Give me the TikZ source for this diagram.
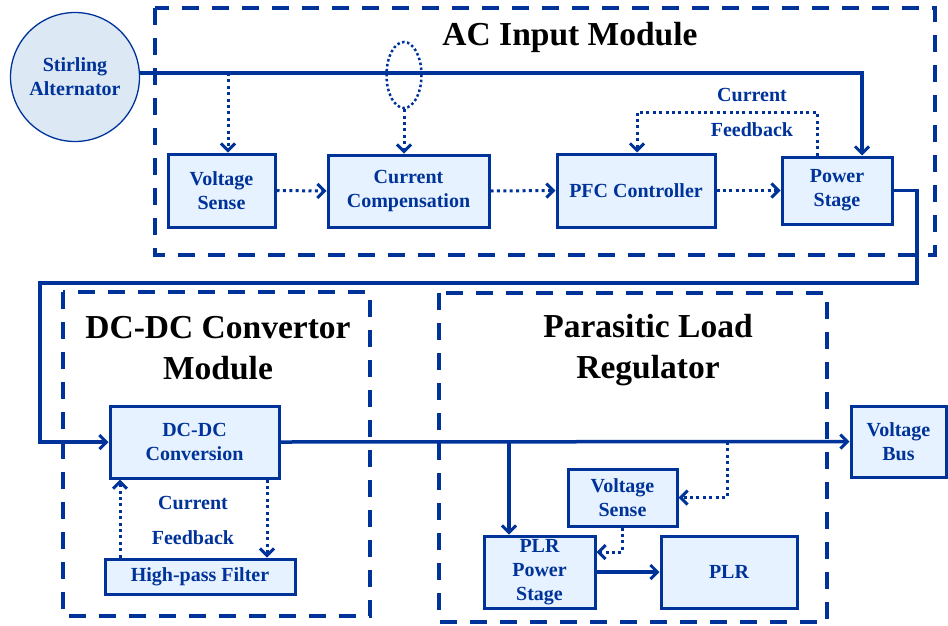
\documentclass[tikz,border=0pt]{standalone}
\usepackage{fontspec}
\setmainfont{Liberation Serif}
\usetikzlibrary{arrows.meta,shapes.geometric}
\definecolor{dblue}{HTML}{003399}
\definecolor{boxfill}{HTML}{E6F2FF}
\definecolor{circfill}{HTML}{DCE9F5}
\tikzset{
  blk/.style={draw=dblue, line width=3pt, fill=boxfill, text=dblue, inner sep=0pt, align=center,
    font=\bfseries\fontsize{20}{24}\selectfont},
  lbl/.style={text=dblue, inner sep=0pt, align=center, font=\bfseries\fontsize{20}{24}\selectfont},
  ttl/.style={text=black, inner sep=0pt, align=center, font=\bfseries\fontsize{33.5}{41}\selectfont},
  modbox/.style={draw=dblue, line width=4pt, dash pattern=on 17pt off 13pt},
  conn/.style={draw=dblue, line width=3.5pt, -{Straight Barb[length=7pt,width=14pt,line width=3pt]}},
  sig/.style={draw=dblue, line width=3pt, dash pattern=on 3pt off 3.4pt,
    -{Straight Barb[length=7pt,width=14pt,line width=3pt]}},
}
\begin{document}
\begin{tikzpicture}[x=1pt,y=-1pt]
\useasboundingbox (0,0) rectangle (948,625);
% module boxes
\draw[modbox] (155,8) rectangle (935,255);
\draw[modbox] (63,292) rectangle (370,616);
\draw[modbox] (439,293) rectangle (827,622);
% titles
\node[ttl] (t1) at (570,37) {AC Input Module};
\node[ttl] (t2) at (218,348) {DC-DC Convertor\\Module};
\node[ttl] (t3) at (648,350) {Parasitic Load\\Regulator};
% nodes
\node[circle, draw=dblue, line width=1.3pt, fill=circfill, minimum size=129pt, inner sep=0pt, text=dblue,
  align=center, font=\bfseries\fontsize{20}{24}\selectfont] (alt) at (75,77) {Stirling\\Alternator};
\node[ellipse, draw=dblue, line width=2.5pt, dash pattern=on 2.5pt off 2.5pt, minimum width=35pt, minimum height=66pt, inner sep=0pt] (ell) at (404,75) {};
\node[blk, minimum width=107pt, minimum height=73pt] (vs1) at (221.5,190.5) {Voltage\\Sense};
\node[blk, minimum width=161pt, minimum height=72pt] (cc) at (408.5,191) {Current\\Compensation};
\node[blk, minimum width=158pt, minimum height=73pt] (pfc) at (636,190.5) {PFC Controller};
\node[blk, minimum width=110pt, minimum height=67pt] (ps) at (837,190.5) {Power\\Stage};
\node[blk, minimum width=169pt, minimum height=72pt] (dcdc) at (194.5,442) {DC-DC\\Conversion};
\node[blk, minimum width=190pt, minimum height=35pt] (hpf) at (200,576.5) {High-pass Filter};
\node[blk, minimum width=95pt, minimum height=71pt] (vbus) at (898.5,441.5) {Voltage\\Bus};
\node[blk, minimum width=109pt, minimum height=57pt] (vs2) at (622.5,497.5) {Voltage\\Sense};
\node[blk, minimum width=111pt, minimum height=72pt] (plrps) at (539.5,572) {PLR\\Power\\Stage};
\node[blk, minimum width=136pt, minimum height=72pt] (plr) at (729,572) {PLR};
% labels
\node[lbl] (cf1) at (752,95) {Current};
\node[lbl] (cf2) at (752,130) {Feedback};
\node[lbl] (cf3) at (193,503) {Current};
\node[lbl] (cf4) at (193,538) {Feedback};
% coordinates
\coordinate (j1) at (862,73);
\coordinate (t1c) at (228,73);
\coordinate (fb1) at (817,112);
\coordinate (fb2) at (637,112);
\coordinate (r1) at (917,283);
\coordinate (l1) at (40,283);
\coordinate (b1) at (509,442);
\coordinate (b2) at (727,442);
\coordinate (b3) at (623,552);
\coordinate (h1) at (120,0);
\coordinate (h2) at (267,0);
% connectors
\draw[conn] (alt.east |- j1) -- (j1) -- (ps.north -| j1);
\draw[sig] (t1c) -- (t1c |- vs1.north);
\draw[sig] (ell.south) -- (ell.south |- cc.north);
\draw[sig] (vs1.east) -- (cc.west);
\draw[sig] (cc.east) -- (pfc.west);
\draw[sig] (pfc.east) -- (ps.west);
\draw[sig] (fb1 |- ps.north) -- (fb1) -- (fb2) -- (fb2 |- pfc.north);
\draw[conn] (ps.east) -- (ps.east -| r1) -- (r1) -- (l1) -- (l1 |- dcdc.west) -- (dcdc.west);
\draw[conn] (dcdc.east) -- (vbus.west);
\draw[conn] (b1) -- (b1 |- plrps.north);
\draw[sig] (b2) -- (b2 |- vs2.east) -- (vs2.east);
\draw[sig] (vs2.south) -- (vs2.south |- b3) -- (b3 -| plrps.east);
\draw[conn] (plrps.east) -- (plr.west);
\draw[sig] (hpf.north -| h1) -- (dcdc.south -| h1);
\draw[sig] (dcdc.south -| h2) -- (hpf.north -| h2);
\end{tikzpicture}
\end{document}
